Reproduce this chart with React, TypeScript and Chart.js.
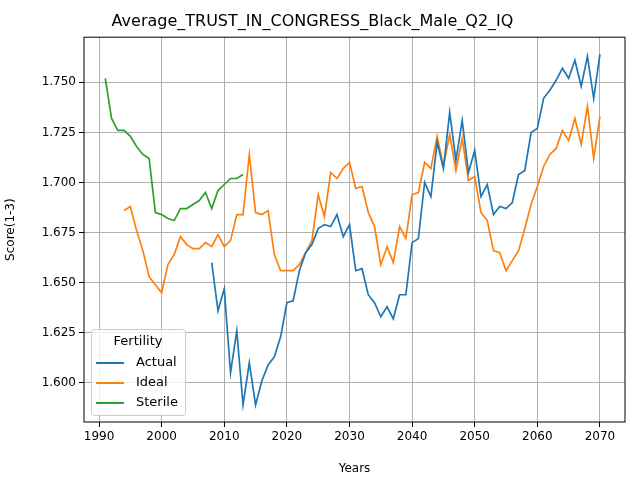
import { useEffect, useRef } from 'react'
import { Chart, registerables } from 'chart.js'

Chart.register(...registerables)

const sterileYears = [1991, 2013]
const sterile = [1.752, 1.732, 1.726, 1.726, 1.723, 1.718, 1.714, 1.712, 1.685, 1.684, 1.682, 1.681, 1.687, 1.687, 1.689, 1.691, 1.695, 1.687, 1.696, 1.699, 1.702, 1.702, 1.704]

const idealYears = [1994, 2070]
const ideal = [1.686, 1.688, 1.676, 1.666, 1.653, 1.649, 1.645, 1.659, 1.664, 1.673, 1.669, 1.667, 1.667, 1.670, 1.668, 1.674, 1.668, 1.671, 1.684, 1.684, 1.714, 1.685, 1.684, 1.686, 1.664, 1.656, 1.656, 1.656, 1.659, 1.665, 1.671, 1.694, 1.683, 1.705, 1.702, 1.707, 1.710, 1.697, 1.698, 1.685, 1.678, 1.659, 1.668, 1.660, 1.678, 1.672, 1.694, 1.695, 1.710, 1.707, 1.723, 1.708, 1.724, 1.706, 1.722, 1.701, 1.703, 1.685, 1.681, 1.666, 1.665, 1.656, 1.661, 1.666, 1.677, 1.689, 1.698, 1.708, 1.714, 1.717, 1.726, 1.721, 1.732, 1.719, 1.738, 1.712, 1.733]

const actualYears = [2008, 2070]
const actual = [1.660, 1.636, 1.647, 1.605, 1.626, 1.589, 1.610, 1.589, 1.601, 1.609, 1.613, 1.623, 1.640, 1.641, 1.656, 1.665, 1.669, 1.677, 1.679, 1.678, 1.684, 1.673, 1.679, 1.656, 1.657, 1.644, 1.640, 1.633, 1.638, 1.632, 1.644, 1.644, 1.670, 1.672, 1.700, 1.693, 1.720, 1.707, 1.735, 1.711, 1.731, 1.705, 1.716, 1.693, 1.699, 1.684, 1.688, 1.687, 1.690, 1.704, 1.706, 1.725, 1.727, 1.742, 1.746, 1.751, 1.757, 1.752, 1.761, 1.748, 1.763, 1.742, 1.764]

const xTicks = [1990, 2000, 2010, 2020, 2030, 2040, 2050, 2060, 2070]
const yTicks = [1.600, 1.625, 1.650, 1.675, 1.700, 1.725, 1.750]

const FONT = 'DejaVu Sans'

const toPoints = (start: number, vals: number[]) => vals.map((y, i) => ({ x: start + i, y }))

const series = [
  { label: 'Actual', color: '#1f77b4', data: toPoints(actualYears[0], actual) },
  { label: 'Ideal', color: '#ff7f0e', data: toPoints(idealYears[0], ideal) },
  { label: 'Sterile', color: '#2ca02c', data: toPoints(sterileYears[0], sterile) },
]

const legendBox = {
  id: 'legendBox',
  afterDraw(chart: Chart) {
    const { ctx, chartArea } = chart
    const x = chartArea.left + 7, h = 86, w = 94
    const y = chartArea.bottom - 7 - h
    ctx.save()
    ctx.fillStyle = 'rgba(255,255,255,0.8)'
    ctx.strokeStyle = '#cccccc'
    ctx.lineWidth = 1
    ctx.beginPath()
    ctx.roundRect(x + 0.5, y + 0.5, w, h, 3)
    ctx.fill(); ctx.stroke()
    ctx.fillStyle = '#000'
    ctx.font = `13px "${FONT}"`
    ctx.textBaseline = 'middle'
    ctx.textAlign = 'center'
    ctx.fillText('Fertility', x + w / 2, y + 13)
    ctx.textAlign = 'left'
    series.forEach((s, i) => {
      const ly = y + 34 + i * 20
      ctx.strokeStyle = s.color
      ctx.lineWidth = 2
      ctx.beginPath(); ctx.moveTo(x + 5, ly); ctx.lineTo(x + 33, ly); ctx.stroke()
      ctx.fillText(s.label, x + 45, ly)
    })
    ctx.restore()
  },
}

const frame = {
  id: 'frame',
  afterDraw(chart: Chart) {
    const { ctx, chartArea: a } = chart
    ctx.save()
    ctx.strokeStyle = '#000'
    ctx.lineWidth = 1
    ctx.strokeRect(a.left, a.top, a.right - a.left, a.bottom - a.top)
    ctx.restore()
  },
}

export default function App() {
  const canvasRef = useRef<HTMLCanvasElement>(null)
  const chartRef = useRef<Chart | null>(null)

  useEffect(() => {
    document.body.style.margin = '0'
    if (!canvasRef.current) return
    chartRef.current?.destroy()

    chartRef.current = new Chart(canvasRef.current, {
      type: 'line',
      data: {
        datasets: series.map(s => ({
          label: s.label,
          data: s.data,
          borderColor: s.color,
          backgroundColor: s.color,
          borderWidth: 1.7,
          pointRadius: 0,
          tension: 0,
        })),
      },
      plugins: [legendBox, frame],
      options: {
        animation: false,
        responsive: false,
        layout: { padding: { top: 0, right: 15, bottom: 0, left: 0 } },
        plugins: {
          legend: { display: false },
          tooltip: { enabled: false },
          title: {
            display: true,
            text: 'Average_TRUST_IN_CONGRESS_Black_Male_Q2_IQ',
            color: '#000',
            font: { family: FONT, size: 16, weight: 'normal' },
            padding: { top: 12, bottom: 6 },
          },
        },
        scales: {
          x: {
            type: 'linear',
            min: 1987.6,
            max: 2074,
            afterBuildTicks: ax => { ax.ticks = xTicks.map(v => ({ value: v })) },
            afterFit: ax => { ax.height = 58 },
            grid: { color: '#b0b0b0', tickLength: 5, tickColor: '#000' },
            border: { display: false },
            ticks: { color: '#000', font: { family: FONT, size: 12 }, callback: v => String(v) },
            title: { display: true, text: 'Years', color: '#000', font: { family: FONT, size: 12 } },
          },
          y: {
            min: 1.5805,
            max: 1.7725,
            afterBuildTicks: ax => { ax.ticks = yTicks.map(v => ({ value: v })) },
            afterFit: ax => { ax.width = 84 },
            grid: { color: '#b0b0b0', tickLength: 5, tickColor: '#000' },
            border: { display: false },
            ticks: { color: '#000', font: { family: FONT, size: 12 }, callback: v => Number(v).toFixed(3) },
            title: { display: true, text: 'Score(1-3)', color: '#000', font: { family: FONT, size: 12 } },
          },
        },
      },
    })

    return () => { chartRef.current?.destroy(); chartRef.current = null }
  }, [])

  return <canvas ref={canvasRef} width={640} height={480} style={{ display: 'block' }} />
}
